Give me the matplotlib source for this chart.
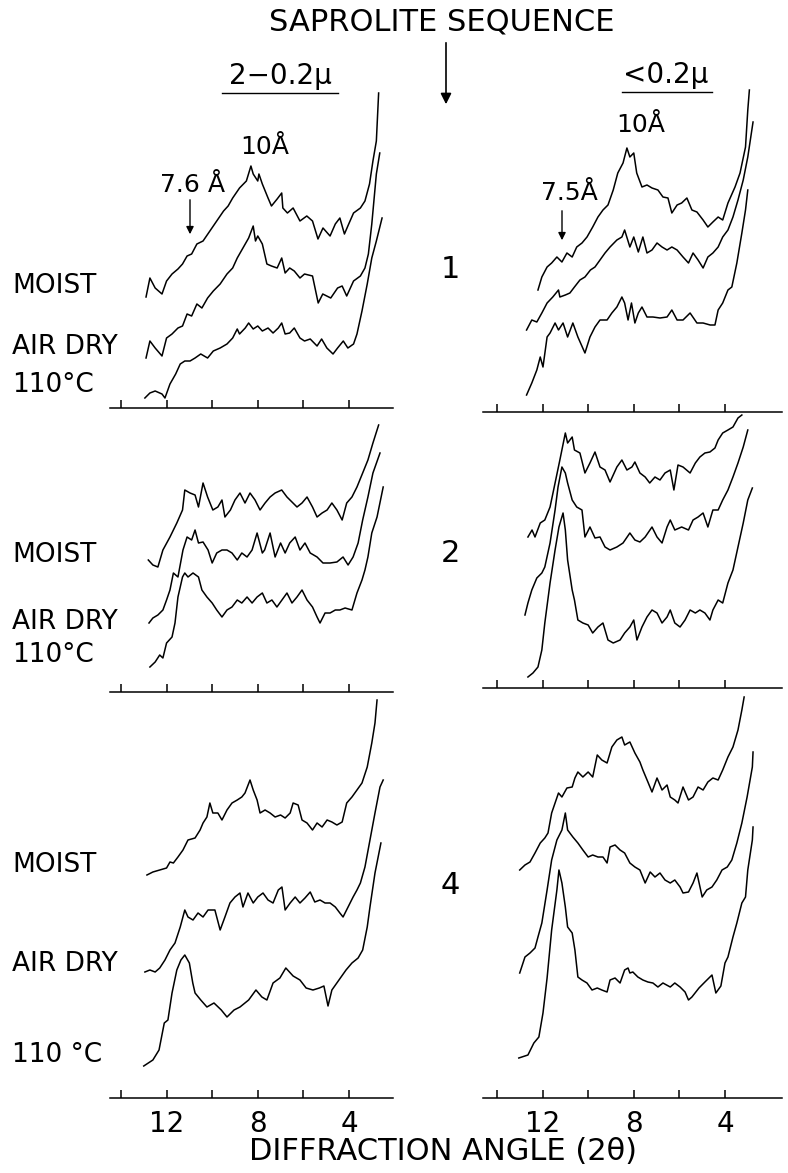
import numpy as np
import matplotlib.pyplot as plt

# X-ray diffractograms
# each trace: (2-theta in degrees, recorder deflection in arbitrary units)

# sample 1, 2-0.2 micron
l1_moist = [(12.9,111),(12.73,130),(12.5,120),(12.2,114),(12.0,127),(11.76,134),(11.5,139),(11.3,144),(11.1,152),(10.9,154),(10.67,164),(10.4,167),(10.1,177),(9.8,187),(9.5,197),(9.3,202),(9.1,210),(8.8,220),(8.5,227),(8.3,242),(8.2,234),(8.0,227),(7.95,234),(7.8,224),(7.55,210),(7.4,202),(7.15,209),(6.95,215),(6.9,200),(6.7,195),(6.45,200),(6.15,187),(5.85,192),(5.6,187),(5.36,169),(5.14,180),(4.83,172),(4.6,184),(4.4,190),(4.2,174),(4.05,182),(3.8,195),(3.5,200),(3.3,207),(3.1,224),(2.95,247),(2.8,267),(2.7,315)]
l1_air = [(12.9,50),(12.73,67),(12.5,60),(12.2,52),(12.0,70),(11.76,74),(11.5,80),(11.3,82),(11.1,94),(10.9,92),(10.67,104),(10.45,100),(10.2,110),(9.95,117),(9.65,124),(9.35,134),(9.1,140),(8.9,150),(8.65,160),(8.4,170),(8.2,182),(8.1,167),(8.0,172),(7.8,164),(7.6,144),(7.4,142),(7.15,140),(6.95,150),(6.8,135),(6.6,140),(6.4,137),(6.15,130),(5.95,134),(5.6,132),(5.35,105),(5.15,114),(4.8,110),(4.5,120),(4.3,122),(4.1,112),(3.8,127),(3.5,132),(3.3,140),(3.15,154),(3.0,184),(2.8,234),(2.65,255)]
l1_110 = [(12.95,10),(12.73,15),(12.5,17),(12.2,14),(12.07,10),(11.85,24),(11.6,34),(11.4,44),(11.2,47),(10.97,47),(10.75,50),(10.5,54),(10.2,50),(9.95,57),(9.65,60),(9.35,64),(9.1,70),(8.9,79),(8.8,74),(8.55,80),(8.4,85),(8.2,79),(8.0,82),(7.8,77),(7.55,80),(7.33,75),(7.1,80),(6.95,85),(6.8,74),(6.6,75),(6.4,80),(6.15,70),(5.95,67),(5.7,69),(5.4,62),(5.2,69),(4.97,60),(4.7,54),(4.5,60),(4.25,67),(4.05,60),(3.8,64),(3.65,74),(3.43,97),(3.2,124),(3.0,150),(2.8,167),(2.55,190)]

# sample 1, <0.2 micron
r1_moist = [(12.2,122),(12.03,135),(11.8,145),(11.6,149),(11.37,155),(11.15,150),(10.93,159),(10.7,155),(10.5,165),(10.27,169),(10.05,175),(9.8,185),(9.57,195),(9.35,202),(9.13,207),(8.9,222),(8.7,239),(8.47,249),(8.3,264),(8.17,255),(8.0,259),(7.87,239),(7.64,225),(7.42,227),(7.2,224),(6.94,222),(6.72,215),(6.5,214),(6.33,199),(6.1,207),(5.9,209),(5.67,214),(5.45,202),(5.23,200),(4.96,192),(4.75,185),(4.53,190),(4.3,195),(4.1,192),(3.87,209),(3.56,225),(3.34,239),(3.1,265),(3.0,302),(2.93,322)]
r1_air = [(12.7,82),(12.47,92),(12.25,90),(12.03,99),(11.8,109),(11.55,115),(11.3,122),(11.24,115),(11.0,117),(10.8,119),(10.6,125),(10.36,132),(10.14,135),(9.9,142),(9.7,145),(9.48,152),(9.26,159),(9.04,165),(8.74,172),(8.52,175),(8.4,182),(8.17,165),(8.0,175),(7.8,160),(7.6,175),(7.42,159),(7.2,162),(6.98,169),(6.76,165),(6.54,162),(6.33,165),(6.1,162),(5.84,155),(5.6,149),(5.4,159),(5.18,152),(4.96,144),(4.75,155),(4.53,159),(4.3,165),(4.1,175),(3.87,182),(3.65,195),(3.43,212),(3.2,232),(3.0,255),(2.77,290)]
r1_110 = [(12.7,17),(12.47,29),(12.25,42),(12.1,55),(11.98,45),(11.8,75),(11.67,79),(11.45,89),(11.3,82),(11.1,89),(10.9,75),(10.67,89),(10.45,75),(10.14,59),(9.92,75),(9.7,85),(9.48,92),(9.17,92),(8.96,99),(8.74,105),(8.52,115),(8.4,109),(8.25,92),(8.1,109),(7.95,89),(7.8,99),(7.64,105),(7.42,95),(7.16,95),(6.85,94),(6.54,95),(6.33,102),(6.1,92),(5.84,92),(5.53,99),(5.23,89),(4.96,89),(4.65,87),(4.44,87),(4.3,102),(4.1,109),(3.87,122),(3.7,125),(3.48,149),(3.26,179),(3.1,202),(3.0,222)]

# sample 2, 2-0.2 micron
l2_moist = [(12.8,132),(12.6,127),(12.38,125),(12.16,142),(11.85,155),(11.55,169),(11.3,182),(11.2,202),(10.97,199),(10.75,197),(10.6,185),(10.4,209),(10.2,195),(9.97,182),(9.75,185),(9.57,192),(9.44,175),(9.2,182),(9.0,192),(8.78,199),(8.56,189),(8.34,199),(8.12,192),(7.9,182),(7.68,189),(7.46,195),(7.24,199),(6.95,202),(6.72,195),(6.5,190),(6.28,185),(6.06,189),(5.84,195),(5.6,185),(5.4,175),(5.18,179),(4.96,182),(4.75,189),(4.53,182),(4.3,172),(4.1,189),(3.87,195),(3.65,205),(3.4,219),(3.17,232),(2.95,249),(2.7,267)]
l2_air = [(12.77,69),(12.6,74),(12.38,77),(12.16,82),(12.0,92),(11.85,102),(11.7,119),(11.5,115),(11.28,142),(11.1,155),(10.9,152),(10.75,162),(10.6,149),(10.4,150),(10.18,142),(10.0,129),(9.8,139),(9.57,142),(9.35,142),(9.13,139),(8.9,132),(8.7,139),(8.47,135),(8.25,142),(8.03,159),(7.8,139),(7.7,142),(7.46,159),(7.24,135),(7.0,149),(6.8,139),(6.6,149),(6.36,155),(6.15,142),(5.93,149),(5.7,139),(5.4,135),(5.14,129),(4.83,129),(4.53,130),(4.26,135),(4.04,127),(3.82,135),(3.6,149),(3.4,172),(3.17,195),(2.95,219),(2.64,239)]
l2_110 = [(12.73,25),(12.5,30),(12.3,37),(12.16,34),(12.0,49),(11.76,55),(11.63,69),(11.5,95),(11.3,115),(11.2,119),(11.06,115),(10.84,119),(10.6,115),(10.45,102),(10.23,95),(10.0,89),(9.8,82),(9.57,75),(9.35,82),(9.13,85),(8.9,92),(8.7,89),(8.47,95),(8.25,89),(8.03,95),(7.8,99),(7.6,89),(7.38,92),(7.16,85),(6.94,92),(6.72,99),(6.5,89),(6.28,95),(6.06,102),(5.84,92),(5.6,85),(5.4,75),(5.27,69),(5.05,79),(4.83,79),(4.6,82),(4.4,82),(4.17,84),(3.87,82),(3.65,99),(3.43,112),(3.3,122),(3.17,135),(3.0,159),(2.77,175),(2.5,205)]

# sample 2, <0.2 micron
r2_moist = [(12.64,151),(12.46,158),(12.33,151),(12.1,165),(11.9,168),(11.67,181),(11.45,205),(11.24,228),(11.0,255),(10.9,245),(10.7,251),(10.6,238),(10.36,235),(10.14,215),(9.92,225),(9.7,236),(9.48,221),(9.26,218),(9.04,206),(8.74,221),(8.52,228),(8.3,218),(8.08,221),(7.95,226),(7.73,215),(7.5,211),(7.3,205),(7.07,211),(6.85,208),(6.63,215),(6.4,218),(6.24,198),(6.06,223),(5.84,221),(5.53,215),(5.3,225),(5.1,231),(4.88,235),(4.66,236),(4.44,240),(4.3,248),(4.1,255),(3.87,258),(3.65,261),(3.43,270),(3.26,273)]
r2_air = [(12.77,73),(12.64,85),(12.47,98),(12.25,110),(12.03,115),(11.9,121),(11.67,145),(11.45,178),(11.32,201),(11.15,221),(11.0,215),(10.9,205),(10.7,188),(10.5,181),(10.27,178),(10.14,151),(9.92,161),(9.7,150),(9.48,151),(9.26,141),(9.04,138),(8.74,141),(8.47,145),(8.17,155),(7.95,148),(7.73,146),(7.5,151),(7.2,161),(6.98,151),(6.76,145),(6.54,161),(6.4,168),(6.2,158),(5.9,161),(5.6,158),(5.4,168),(5.18,171),(4.96,175),(4.75,161),(4.53,178),(4.3,178),(4.1,188),(3.87,198),(3.65,211),(3.43,225),(3.2,241),(3.0,258)]
r2_110 = [(12.64,11),(12.42,15),(12.2,21),(12.03,38),(11.9,65),(11.67,105),(11.45,138),(11.28,161),(11.1,175),(11.0,158),(10.9,128),(10.7,98),(10.6,88),(10.45,68),(10.23,65),(10.0,63),(9.8,55),(9.57,61),(9.35,65),(9.13,48),(8.9,45),(8.6,48),(8.4,55),(8.17,61),(8.0,68),(7.86,48),(7.64,61),(7.42,71),(7.2,78),(6.98,75),(6.76,65),(6.54,71),(6.4,78),(6.2,65),(5.97,61),(5.75,68),(5.53,78),(5.3,75),(5.1,78),(4.88,75),(4.66,68),(4.53,78),(4.3,88),(4.1,85),(3.87,105),(3.65,118),(3.43,141),(3.2,165),(3.0,188),(2.8,200)]

# sample 4, 2-0.2 micron
l3_moist = [(12.86,223),(12.6,226),(12.3,228),(12.0,230),(11.85,236),(11.7,235),(11.5,241),(11.28,248),(11.06,258),(10.75,260),(10.53,268),(10.4,275),(10.23,281),(10.1,295),(9.97,285),(9.75,285),(9.57,278),(9.35,288),(9.13,295),(8.9,298),(8.7,301),(8.56,305),(8.34,318),(8.2,308),(8.03,298),(7.9,285),(7.68,288),(7.46,285),(7.24,281),(7.0,283),(6.8,280),(6.58,285),(6.45,295),(6.23,293),(6.06,278),(5.84,275),(5.6,268),(5.4,275),(5.18,271),(4.96,278),(4.75,276),(4.53,273),(4.3,276),(4.1,295),(3.87,301),(3.65,308),(3.43,315),(3.2,331),(3.0,355),(2.86,375),(2.77,398)]
l3_air = [(12.95,126),(12.73,128),(12.5,126),(12.3,130),(12.07,138),(11.85,148),(11.63,155),(11.4,171),(11.2,188),(11.06,181),(10.84,178),(10.62,185),(10.4,181),(10.18,188),(9.88,188),(9.65,168),(9.44,181),(9.22,195),(9.0,201),(8.78,205),(8.65,191),(8.43,205),(8.2,195),(8.0,201),(7.77,205),(7.55,198),(7.33,195),(7.1,208),(6.94,211),(6.8,188),(6.58,195),(6.36,201),(6.15,195),(5.93,200),(5.7,206),(5.5,196),(5.27,198),(5.05,195),(4.83,195),(4.6,191),(4.4,185),(4.26,181),(4.04,191),(3.82,201),(3.65,208),(3.5,215),(3.3,231),(3.08,258),(2.86,285),(2.64,311),(2.5,318)]
l3_110 = [(13.0,32),(12.6,38),(12.33,48),(12.1,75),(11.94,78),(11.76,105),(11.55,128),(11.37,138),(11.2,143),(11.0,135),(10.85,115),(10.75,105),(10.5,98),(10.23,91),(9.92,95),(9.6,88),(9.35,81),(9.04,88),(8.78,91),(8.4,98),(8.08,108),(7.82,101),(7.6,98),(7.33,115),(7.03,120),(6.77,130),(6.45,122),(6.15,118),(5.88,110),(5.58,108),(5.3,110),(5.1,112),(4.92,92),(4.75,108),(4.44,118),(4.13,128),(3.87,135),(3.6,140),(3.4,148),(3.2,171),(3.08,191),(2.86,225),(2.6,255)]

# sample 4, <0.2 micron
r3_moist = [(13.0,228),(12.77,233),(12.55,236),(12.33,245),(12.1,255),(11.9,260),(11.76,265),(11.6,285),(11.45,295),(11.3,305),(11.15,301),(10.93,310),(10.7,311),(10.58,320),(10.45,326),(10.23,321),(10.0,326),(9.8,321),(9.6,343),(9.4,338),(9.17,335),(8.96,351),(8.74,358),(8.52,361),(8.4,353),(8.17,356),(7.95,345),(7.73,336),(7.6,328),(7.38,316),(7.2,306),(6.98,320),(6.76,308),(6.54,313),(6.4,301),(6.2,298),(6.06,295),(5.84,311),(5.6,298),(5.4,301),(5.18,311),(4.96,308),(4.75,316),(4.53,320),(4.3,318),(4.1,328),(3.87,341),(3.65,351),(3.43,368),(3.26,388),(3.16,401)]
r3_air = [(13.0,125),(12.77,141),(12.55,145),(12.33,150),(12.2,161),(12.03,175),(11.8,208),(11.6,238),(11.37,258),(11.15,268),(11.0,285),(10.9,268),(10.67,261),(10.45,255),(10.23,248),(10.0,241),(9.8,243),(9.57,241),(9.35,241),(9.17,235),(9.04,251),(8.82,253),(8.6,248),(8.4,245),(8.17,235),(7.95,231),(7.73,228),(7.5,215),(7.28,226),(7.07,221),(6.85,225),(6.63,218),(6.4,215),(6.2,218),(5.97,211),(5.84,205),(5.6,206),(5.4,215),(5.23,225),(5.0,201),(4.8,208),(4.57,211),(4.36,218),(4.13,228),(3.9,231),(3.7,238),(3.48,255),(3.26,275),(3.03,301),(2.8,331),(2.77,346)]
r3_110 = [(13.04,40),(12.64,43),(12.38,55),(12.16,61),(11.98,85),(11.8,120),(11.6,168),(11.37,208),(11.28,228),(11.15,215),(11.0,191),(10.9,171),(10.7,165),(10.58,148),(10.45,121),(10.27,118),(10.05,115),(9.83,108),(9.6,110),(9.4,108),(9.17,106),(9.04,118),(8.82,120),(8.6,115),(8.4,128),(8.25,130),(8.17,125),(8.04,126),(7.82,121),(7.6,118),(7.38,116),(7.16,115),(6.94,111),(6.72,115),(6.4,111),(6.2,115),(5.97,111),(5.75,106),(5.6,98),(5.45,101),(5.14,110),(4.88,116),(4.57,123),(4.4,105),(4.18,112),(4.0,135),(3.87,141),(3.65,161),(3.48,175),(3.26,195),(3.1,201),(3.0,228),(2.8,258),(2.77,271)]

tick_pos = [14, 12, 10, 8, 6, 4]
tick_lab = ['', '12', '', '8', '', '4']
treatments = ['MOIST', 'AIR DRY', '110°C']
samples = ['1', '2', '4']

W, H = 788, 1173
fig = plt.figure(figsize=(W / 100, H / 100), dpi=100)
plt.rcParams['font.family'] = ['DejaVu Sans']


def panel(x0, x1, y_axis, y_top, xlim, traces, bottom):
    ax = fig.add_axes([x0 / W, 1 - y_axis / H, (x1 - x0) / W, (y_axis - y_top) / H])
    ax.patch.set_visible(False)
    for tr in traces:
        a = np.array(tr)
        ax.plot(a[:, 0], a[:, 1], color='k', lw=1.1, clip_on=False)
    ax.set_xlim(*xlim)
    ax.set_ylim(0, y_axis - y_top)
    for s in ['left', 'right', 'top']:
        ax.spines[s].set_visible(False)
    ax.spines['bottom'].set_linewidth(1.1)
    ax.set_yticks([])
    ax.set_xticks(tick_pos)
    ax.tick_params(axis='x', direction='in', length=6, width=1.1, pad=9, labelsize=20)
    ax.set_xticklabels(tick_lab if bottom else [''] * len(tick_pos))
    return ax


left_lim = (14.48, 2.07)
right_lim = (14.61, 1.50)
panel(110, 393, 408, 85, left_lim, [l1_moist, l1_air, l1_110], False)
panel(483, 782, 412, 85, right_lim, [r1_moist, r1_air, r1_110], False)
panel(110, 393, 692, 415, left_lim, [l2_moist, l2_air, l2_110], False)
panel(483, 782, 688, 415, right_lim, [r2_moist, r2_air, r2_110], False)
panel(110, 393, 1098, 695, left_lim, [l3_moist, l3_air, l3_110], True)
panel(483, 782, 1098, 695, right_lim, [r3_moist, r3_air, r3_110], True)

# text layer in pixel units
ov = fig.add_axes([0, 0, 1, 1])
ov.set_xlim(0, W)
ov.set_ylim(H, 0)
ov.axis('off')

ov.text(442, 22, 'SAPROLITE SEQUENCE', ha='center', va='center', fontsize=22)
ov.annotate('', xy=(446, 107), xytext=(446, 40),
            arrowprops=dict(arrowstyle='-|>', color='k', lw=1.2, mutation_scale=16))
ov.text(280, 76, '2−0.2μ', ha='center', va='center', fontsize=20)
ov.plot([222, 338], [93, 93], color='k', lw=1)
ov.text(666, 75, '<0.2μ', ha='center', va='center', fontsize=20)
ov.plot([622, 712], [92, 92], color='k', lw=1)

ov.text(265, 147, '10Å', ha='center', va='center', fontsize=18)
ov.text(193, 185, '7.6 Å', ha='center', va='center', fontsize=18)
ov.annotate('', xy=(190, 237), xytext=(190, 197),
            arrowprops=dict(arrowstyle='-|>', color='k', lw=1, mutation_scale=11))
ov.text(641, 125, '10Å', ha='center', va='center', fontsize=18)
ov.text(569, 193, '7.5Å', ha='center', va='center', fontsize=18)
ov.annotate('', xy=(562, 243), xytext=(562, 208),
            arrowprops=dict(arrowstyle='-|>', color='k', lw=1, mutation_scale=11))

for s, y in zip(samples, [270, 553, 885]):
    ov.text(450, y, s, ha='center', va='center', fontsize=22)

row_y = [[286, 347, 385], [555, 622, 655], [865, 964, 1055]]
for i, ys in enumerate(row_y):
    for j, (lab, y) in enumerate(zip(treatments, ys)):
        if i == 2 and j == 2:
            lab = '110 °C'
        ov.text(12, y, lab, ha='left', va='center', fontsize=19)

ov.text(443, 1152, 'DIFFRACTION ANGLE (2θ)', ha='center', va='center', fontsize=22)

fig.savefig('out.png', dpi=100)
